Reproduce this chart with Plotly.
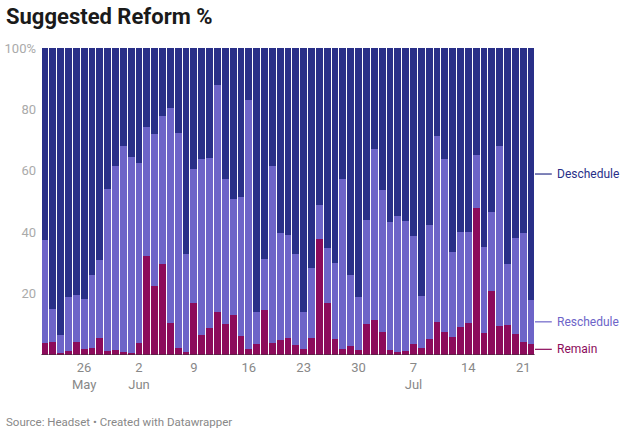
import plotly.graph_objects as go
import pandas as pd

start_date = "2023-05-21"
n_days = 63
dates = pd.date_range(start_date, periods=n_days, freq="D")

# Remain share (%)
remain = [4.0, 4.2, 0.5, 1.3, 4.2, 1.8, 2.2, 5.7, 1.2, 1.5, 1.0, 0.5, 3.8,
          32.4, 22.5, 29.5, 10.5, 2.4, 1.1, 16.8, 6.6, 8.7, 14.1, 10.0, 12.9,
          6.2, 2.1, 3.7, 14.5, 3.8, 4.8, 5.4, 3.1, 2.1, 5.6, 37.9, 16.8, 5.3,
          1.8, 2.9, 1.5, 10.2, 11.3, 7.6, 1.5, 1.0, 1.3, 3.7, 2.3, 5.3, 10.7,
          7.5, 5.9, 9.1, 10.3, 47.9, 7.2, 20.8, 9.3, 9.8, 6.8, 4.2, 3.7]
# Cumulative top of Reschedule (Remain + Reschedule, %)
resched_top = [37.6, 14.9, 6.5, 18.9, 19.7, 18.1, 25.9, 31.1, 54.1, 61.7, 68.0,
               64.4, 62.5, 74.4, 72.1, 77.9, 80.6, 72.3, 32.8, 60.6, 63.7, 64.2,
               87.9, 57.4, 50.9, 51.5, 83.2, 14.0, 31.3, 61.5, 39.8, 39.0, 33.0,
               14.0, 28.4, 48.8, 34.7, 30.0, 57.4, 25.9, 19.0, 44.1, 67.1, 53.7,
               43.3, 45.4, 43.8, 38.7, 19.2, 42.4, 71.3, 63.7, 33.5, 40.2, 40.0,
               65.0, 35.2, 46.5, 68.2, 29.8, 38.0, 39.6, 17.9]
reschedule = [round(t - r, 1) for t, r in zip(resched_top, remain)]
deschedule = [round(100 - t, 1) for t in resched_top]

series_names = ["Remain", "Reschedule", "Deschedule"]
series_colors = ["#8c0b5b", "#6d64c8", "#292f88"]
label_colors = ["#8c0b5b", "#6d64c8", "#292f88"]

tick_dates = ["2023-05-26", "2023-06-02", "2023-06-09", "2023-06-16", "2023-06-23",
              "2023-06-30", "2023-07-07", "2023-07-14", "2023-07-21"]
tick_text = ["26<br>May", "2<br>Jun", "9", "16", "23", "30", "7<br>Jul", "14", "21"]

y_tickvals = [20, 40, 60, 80, 100]
y_ticktext = ["20", "40", "60", "80", "100%"]

fig = go.Figure()
for name, vals, col in zip(series_names, [remain, reschedule, deschedule], series_colors):
    fig.add_trace(go.Bar(x=dates, y=vals, name=name, marker_color=col,
                         marker_line_width=0, showlegend=False))

fig.update_layout(
    barmode="stack", bargap=0.13,
    width=626, height=434,
    margin=dict(l=41, r=91, t=48, b=79),
    paper_bgcolor="white", plot_bgcolor="white",
    font=dict(family="Roboto", color="#999999", size=13),
)
fig.update_xaxes(
    tickvals=tick_dates, ticktext=tick_text, tickangle=0, automargin=False,
    range=[dates[0] - pd.Timedelta(hours=12), dates[-1] + pd.Timedelta(hours=12)],
    showgrid=False, zeroline=False, showline=False, ticks="",
    tickfont=dict(size=13, color="#888888"), ticklabelstandoff=3,
)
fig.update_yaxes(
    range=[0, 100], tickvals=y_tickvals, ticktext=y_ticktext, automargin=False,
    showgrid=False, zeroline=False, showline=False, ticks="",
    tickfont=dict(size=13, color="#aaaaaa"), ticklabelstandoff=4,
)

# baseline
fig.add_shape(type="line", xref="paper", yref="y", x0=0, x1=1, y0=0, y1=0,
              line=dict(color="#333333", width=1))

# direct labels at the last bar's segment midpoints
last_r = remain[-1]
last_t = resched_top[-1]
mids = [last_r / 2, (last_r + last_t) / 2, (last_t + 100) / 2]
for name, mid, col in zip(series_names, mids, label_colors):
    fig.add_shape(type="line", xref="paper", yref="y", x0=1.0, x1=1.034, y0=mid, y1=mid,
                  line=dict(color=col, width=1.2))
    fig.add_annotation(x=1.04, y=mid, xref="paper", yref="y", text=name,
                       showarrow=False, xanchor="left", yanchor="middle",
                       font=dict(size=12, color=col, family="Roboto"))

fig.add_annotation(x=0, y=1, xref="paper", yref="paper", xanchor="left", yanchor="top",
                   text="<b>Suggested Reform %</b>", showarrow=False,
                   xshift=-37, yshift=46,
                   font=dict(size=22, color="#1a1a1a", family="Roboto"))
fig.add_annotation(x=0, y=0, xref="paper", yref="paper", xanchor="left", yanchor="bottom",
                   text="Source: Headset • Created with Datawrapper", showarrow=False,
                   xshift=-37, yshift=-76,
                   font=dict(size=11.5, color="#888888", family="Roboto"))

fig.write_html("out.html", config={"displayModeBar": False},
               post_script="document.body.style.margin='0';document.body.style.overflow='hidden';")
